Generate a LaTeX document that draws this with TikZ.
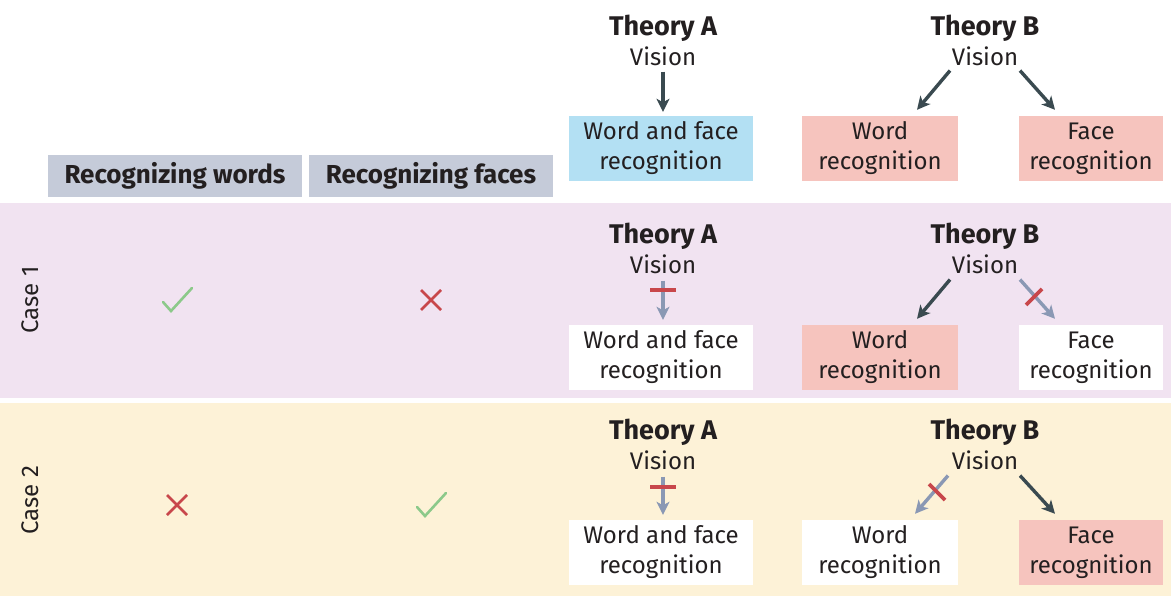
\documentclass[tikz,border=0pt]{standalone}
\usepackage{fontspec}
\setmainfont{Fira Sans}
\usetikzlibrary{arrows.meta}
\definecolor{hdrgray}{HTML}{C5CBD9}
\definecolor{bandpurple}{HTML}{F1E3F1}
\definecolor{bandyellow}{HTML}{FDF2D7}
\definecolor{boxblue}{HTML}{B3E0F3}
\definecolor{boxsalmon}{HTML}{F6C4BE}
\definecolor{arrdark}{HTML}{3A4A50}
\definecolor{arrgray}{HTML}{8A98B4}
\definecolor{markred}{HTML}{C8474B}
\definecolor{checkgreen}{HTML}{8CC98A}
\definecolor{txt}{HTML}{231F20}
\tikzset{
  txtfont/.style={font=\fontsize{24}{30}\selectfont, text=txt},
  title/.style={txtfont, align=center, inner sep=0pt},
  recbox/.style={txtfont, align=center, inner sep=0pt, minimum height=65pt},
  hdrbox/.style={fill=hdrgray, font=\fontsize{26}{30}\selectfont\bfseries, text=txt, minimum height=42pt, inner sep=0pt},
  strongarr/.style={draw=arrdark, line width=3.4pt, -{Stealth[length=13pt,width=13pt,inset=3.5pt]}},
  weakarr/.style={draw=arrgray, line width=3.4pt, -{Stealth[length=13pt,width=13pt,inset=3.5pt]}},
  blockmark/.style={draw=markred, line width=3.6pt},
  casefont/.style={txtfont, rotate=90},
}
\newcommand{\ttl}[1]{{\fontsize{27}{30}\selectfont\bfseries #1}}
\begin{document}
\begin{tikzpicture}[x=1pt,y=-1pt]
\useasboundingbox (0,0) rectangle (1171,596);
\fill[white] (0,0) rectangle (1171,596);
% bands
\fill[bandpurple] (0,203) rectangle (1171,398);
\fill[bandyellow] (0,403) rectangle (1171,596);
% column headers
\node[hdrbox, minimum width=254pt] (hw) at (175,176) {Recognizing words};
\node[hdrbox, minimum width=244pt] (hf) at (431,176) {Recognizing faces};
% case labels
\node[casefont] (c1) at (30,300) {Case 1};
\node[casefont] (c2) at (30,500) {Case 2};
% check and cross marks
\draw[checkgreen, line width=2.6pt, line cap=round] (163,302) -- (171,311) -- (192,288);
\draw[markred, line width=2.6pt] (421,290) -- (441,310) (441,290) -- (421,310);
\draw[markred, line width=2.6pt] (167,495) -- (187,515) (187,495) -- (167,515);
\draw[checkgreen, line width=2.6pt, line cap=round] (417,507) -- (425,516) -- (446,493);

% ===== header row =====
\node[title] (tA0) at (663,40) {\ttl{Theory A}\\Vision};
\node[recbox, fill=boxblue, minimum width=184pt] (bA0) at (661,148.5) {Word and face\\recognition};
\draw[strongarr] ([yshift=-6pt]tA0.south) -- ([xshift=2pt,yshift=4pt]bA0.north);
\node[title] (tB0) at (985,40) {\ttl{Theory B}\\Vision};
\node[recbox, fill=boxsalmon, minimum width=156pt] (wB0) at (880,148.5) {Word\\recognition};
\node[recbox, fill=boxsalmon, minimum width=144pt] (fB0) at (1091,148.5) {Face\\recognition};
\draw[strongarr] ([xshift=-35pt,yshift=-5pt]tB0.south) -- ([xshift=37pt,yshift=6pt]wB0.north);
\draw[strongarr] ([xshift=35pt,yshift=-5pt]tB0.south) -- ([xshift=-36pt,yshift=6pt]fB0.north);

% ===== case 1 =====
\node[title] (tA1) at (663,248) {\ttl{Theory A}\\Vision};
\node[recbox, fill=white, minimum width=184pt] (bA1) at (661,357.5) {Word and face\\recognition};
\draw[weakarr] ([yshift=-7pt]tA1.south) -- ([xshift=2pt,yshift=5pt]bA1.north);
\draw[blockmark] (650,290) -- (676,290);
\node[title] (tB1) at (985,248) {\ttl{Theory B}\\Vision};
\node[recbox, fill=boxsalmon, minimum width=156pt] (wB1) at (880,357.5) {Word\\recognition};
\node[recbox, fill=white, minimum width=144pt] (fB1) at (1091,357.5) {Face\\recognition};
\draw[strongarr] ([xshift=-35pt,yshift=-6pt]tB1.south) -- ([xshift=37pt,yshift=6pt]wB1.north);
\draw[weakarr] ([xshift=35pt,yshift=-6pt]tB1.south) -- ([xshift=-36pt,yshift=6pt]fB1.north);
\draw[blockmark] (1026,305) -- (1042,289);

% ===== case 2 =====
\node[title] (tA2) at (663,444) {\ttl{Theory A}\\Vision};
\node[recbox, fill=white, minimum width=184pt] (bA2) at (661,552.5) {Word and face\\recognition};
\draw[weakarr] ([yshift=-7pt]tA2.south) -- ([xshift=2pt,yshift=5pt]bA2.north);
\draw[blockmark] (650,487) -- (676,487);
\node[title] (tB2) at (985,444) {\ttl{Theory B}\\Vision};
\node[recbox, fill=white, minimum width=156pt] (wB2) at (880,552.5) {Word\\recognition};
\node[recbox, fill=boxsalmon, minimum width=144pt] (fB2) at (1091,552.5) {Face\\recognition};
\draw[weakarr] ([xshift=-37pt,yshift=-6pt]tB2.south) -- ([xshift=35pt,yshift=6pt]wB2.north);
\draw[strongarr] ([xshift=35pt,yshift=-6pt]tB2.south) -- ([xshift=-36pt,yshift=6pt]fB2.north);
\draw[blockmark] (929,484) -- (945,500);
\end{tikzpicture}
\end{document}
